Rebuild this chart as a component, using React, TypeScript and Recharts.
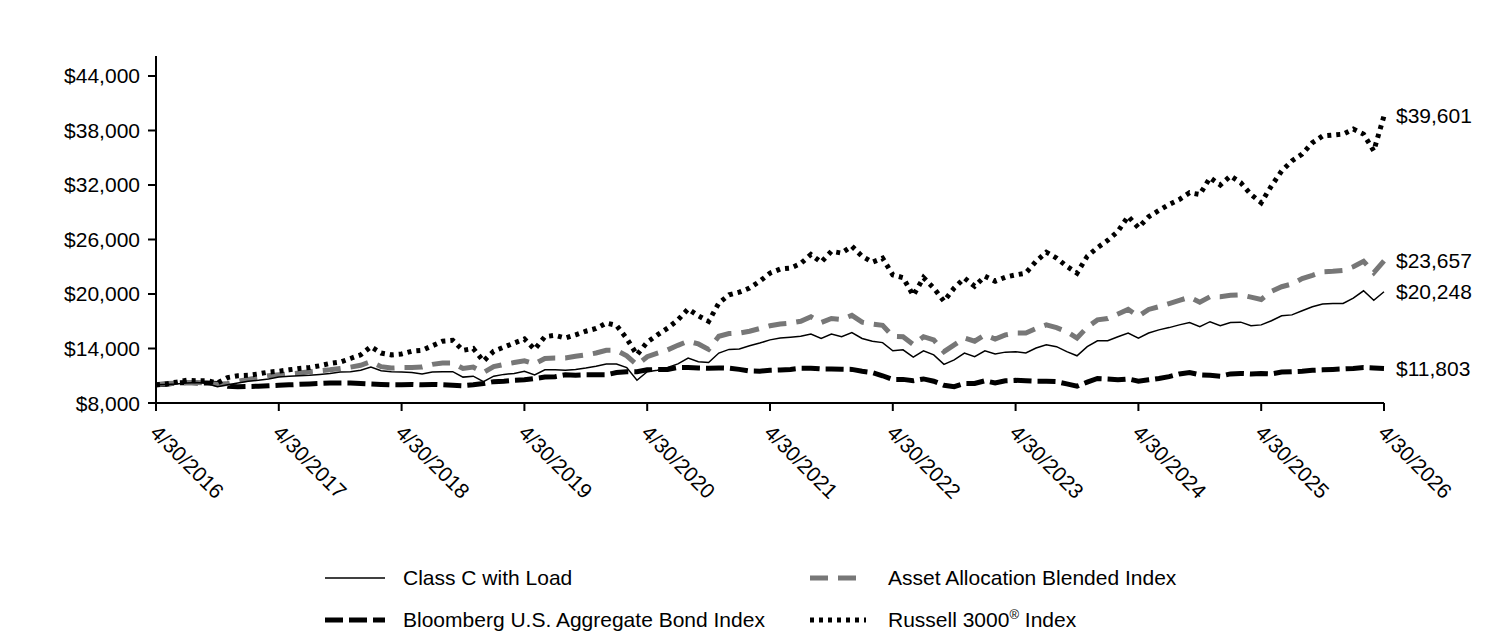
import React from 'react';
import { LineChart, Line, XAxis, YAxis, LabelList } from 'recharts';

const tickLabels = ['4/30/2016', '4/30/2017', '4/30/2018', '4/30/2019', '4/30/2020', '4/30/2021', '4/30/2022', '4/30/2023', '4/30/2024', '4/30/2025', '4/30/2026'];
const yTicks = [8000, 14000, 20000, 26000, 32000, 38000, 44000];

const classC = [
  10000, 10050, 10100, 10200, 10250, 10150, 9800, 10000, 10200, 10400,
  10500, 10650, 10850, 10950, 11000, 11050, 11150, 11250, 11400, 11450,
  11600, 11950, 11550, 11450, 11400, 11350, 11200, 11400, 11450, 11450,
  10850, 10950, 10350, 10950, 11150, 11250, 11500, 11100, 11650, 11650,
  11600, 11700, 11850, 12050, 12300, 12300, 11900, 10500, 11450, 11600,
  11900, 12300, 12950, 12550, 12450, 13500, 13900, 13950, 14300, 14600,
  14950, 15150, 15250, 15350, 15600, 15100, 15600, 15300, 15750, 15100,
  14800, 14650, 13750, 13850, 13050, 13750, 13300, 12250, 12750, 13500,
  13100, 13750, 13400, 13600, 13650, 13500, 14050, 14400, 14200, 13650,
  13200, 14200, 14850, 14850, 15300, 15700, 15150, 15700, 16050, 16300,
  16600, 16850, 16400, 16950, 16500, 16850, 16900, 16500, 16600, 17050,
  17600, 17700, 18150, 18600, 18900, 18950, 18950, 19550, 20350, 19300,
  20248,
];

const assetAllocation = [
  10000, 10150, 10200, 10250, 10250, 10200, 10050, 10150, 10400, 10600,
  10800, 11000, 11100, 11200, 11300, 11450, 11550, 11650, 11800, 11950,
  12150, 12550, 12000, 11850, 11900, 11900, 11950, 12250, 12400, 12400,
  11800, 11950, 11350, 12000, 12250, 12450, 12650, 12300, 12900, 12950,
  12950, 13150, 13300, 13500, 13800, 13800, 13200, 12200, 13100, 13500,
  13850, 14350, 14800, 14500, 13900, 15350, 15650, 15700, 15900, 16200,
  16500, 16700, 16800, 17000, 17500, 16850, 17300, 17200, 17650, 16900,
  16700, 16550, 15350, 15300, 14450, 15300, 14950, 13650, 14400, 15150,
  14800, 15500, 15050, 15500, 15700, 15700, 16200, 16600, 16300, 15850,
  15150, 16350, 17150, 17300, 17800, 18300, 17550, 18300, 18600, 18950,
  19300, 19650, 19100, 19700, 19700, 19850, 19900, 19650, 19400, 20300,
  20800, 21100, 21700, 22050, 22450, 22500, 22600, 23000, 23600, 22350,
  23657,
];

const bloomberg = [
  10000, 10050, 10200, 10250, 10200, 10200, 10150, 9850, 9800, 9820,
  9850, 9900, 9950, 10000, 10050, 10100, 10150, 10200, 10200, 10200,
  10150, 10100, 10050, 10000, 10000, 10050, 10000, 10050, 10000, 9950,
  9900, 10000, 10150, 10350, 10400, 10500, 10550, 10700, 10850, 10900,
  11100, 11050, 11100, 11100, 11100, 11350, 11450, 11450, 11650, 11700,
  11700, 11900, 11900, 11850, 11830, 11850, 11830, 11700, 11530, 11500,
  11600, 11640, 11700, 11830, 11830, 11750, 11750, 11720, 11700, 11500,
  11350, 11000, 10600, 10600, 10450, 10650, 10400, 9950, 9800, 10150,
  10150, 10450, 10200, 10450, 10500, 10450, 10400, 10400, 10350, 10100,
  9850, 10300, 10700, 10650, 10550, 10650, 10400, 10550, 10700, 10900,
  11200, 11350, 11100, 11050, 10950, 11200, 11250, 11200, 11250, 11200,
  11400, 11450, 11500, 11600, 11650, 11700, 11750, 11800, 11900, 11850,
  11803,
];

const russell = [
  10000, 10100, 10300, 10500, 10450, 10450, 10200, 10800, 11000, 11050,
  11200, 11400, 11500, 11650, 11800, 11900, 12100, 12350, 12500, 12900,
  13300, 14200, 13500, 13300, 13400, 13700, 13800, 14300, 14800, 14900,
  13800, 14000, 12600, 13700, 14150, 14600, 15050, 13900, 15300, 15450,
  15150, 15500, 15900, 16200, 16800, 16550, 15100, 13300, 14700, 15500,
  16250, 17150, 18350, 17600, 16980, 19000, 19900, 20200, 20650, 21400,
  22300, 22750, 22850, 23350, 24350, 23500, 24700, 24500, 25260, 24150,
  23500, 23950, 22100, 21800, 19850, 21800, 20650, 19200, 20660, 21750,
  20850, 21950, 21400, 21850, 22100, 22300, 23600, 24600, 23950, 23050,
  22300, 24150, 25100, 25900, 26900, 28550, 27300, 28500, 29200, 29850,
  30400, 31150, 30950, 32800, 32000, 33000, 32250, 30950, 30050, 31900,
  33550, 34650, 35400, 36650, 37400, 37500, 37600, 38150, 37600, 35750,
  39601,
];

const seriesNames = {
  classC: 'Class C with Load',
  asset: 'Asset Allocation Blended Index',
  bond: 'Bloomberg U.S. Aggregate Bond Index',
  russell: 'Russell 3000',
};

const data = classC.map((v, i) => ({
  m: i,
  classC: v,
  asset: assetAllocation[i],
  bond: bloomberg[i],
  russell: russell[i],
}));

const FONT = "Arial, 'Liberation Sans', sans-serif";
const FS = 21;

const fmtMoney = (v: number) => '$' + String(Math.round(v)).replace(/\B(?=(\d{3})+(?!\d))/g, ',');

const XTick = (props: any) => {
  const { x, y, payload } = props;
  const label = tickLabels[Math.round(payload.value / 12)];
  return (
    <g transform={`translate(${x - 7},${y + 21})`}>
      <text transform="rotate(45)" textAnchor="start" fontFamily={FONT} fontSize={FS} fill="#000">
        {label}
      </text>
    </g>
  );
};

const YTick = (props: any) => {
  const { x, y, payload } = props;
  return (
    <text x={x} y={y} textAnchor="end" dominantBaseline="central" fontFamily={FONT} fontSize={FS} fill="#000">
      {fmtMoney(payload.value)}
    </text>
  );
};

const endLabel = (props: any) => {
  const { x, y, value, index } = props;
  if (index !== data.length - 1) return null;
  return (
    <text x={x + 12} y={y} dominantBaseline="central" fontFamily={FONT} fontSize={FS} fill="#000">
      {fmtMoney(value)}
    </text>
  );
};

const Swatch = ({ kind }: { kind: string }) => {
  const common: any = { x1: 0, x2: 60, y1: 10, y2: 10 };
  let line;
  if (kind === 'classC') line = <line {...common} stroke="#000" strokeWidth={1.5} />;
  else if (kind === 'asset') line = <line {...common} x1={0} x2={56} stroke="#777777" strokeWidth={5} strokeDasharray="18 10" />;
  else if (kind === 'bond') line = <line {...common} stroke="#000" strokeWidth={5} strokeDasharray="18 6" />;
  else line = <line {...common} x2={56} stroke="#000" strokeWidth={5} strokeDasharray="4 5" />;
  return (
    <svg width={60} height={20} style={{ display: 'block' }}>
      {line}
    </svg>
  );
};

const LegendItem = ({ kind, left, top }: { kind: string; left: number; top: number }) => (
  <div style={{ position: 'absolute', left, top: top - 10, height: 20, display: 'flex', alignItems: 'center' }}>
    <Swatch kind={kind} />
    <span style={{ marginLeft: 18, fontFamily: FONT, fontSize: FS, color: '#000', whiteSpace: 'nowrap', lineHeight: '20px' }}>
      {(seriesNames as any)[kind]}
      {kind === 'russell' ? (
        <>
          <sup style={{ fontSize: 13, lineHeight: 0 }}>®</sup> Index
        </>
      ) : null}
    </span>
  </div>
);

export default function App() {
  return (
    <div style={{ position: 'absolute', left: 0, top: 0, width: 1512, height: 636, background: '#fff' }}>
      <LineChart width={1512} height={636} data={data} margin={{ top: 56, right: 128, left: 0, bottom: 0 }}>
        <XAxis
          dataKey="m"
          type="number"
          domain={[0, 120]}
          ticks={[0, 12, 24, 36, 48, 60, 72, 84, 96, 108, 120]}
          height={233}
          tickSize={8}
          axisLine={{ stroke: '#000', strokeWidth: 2 }}
          tickLine={{ stroke: '#000', strokeWidth: 2 }}
          tick={<XTick />}
          interval={0}
        />
        <YAxis
          type="number"
          domain={[8000, 46200]}
          ticks={yTicks}
          width={156}
          tickSize={8}
          tickMargin={8}
          axisLine={{ stroke: '#000', strokeWidth: 2 }}
          tickLine={{ stroke: '#000', strokeWidth: 2 }}
          tick={<YTick />}
          interval={0}
        />
        <Line dataKey="bond" stroke="#000" strokeWidth={5} strokeDasharray="18 6" dot={false} isAnimationActive={false}>
          <LabelList dataKey="bond" content={endLabel} />
        </Line>
        <Line dataKey="asset" stroke="#777777" strokeWidth={5} strokeDasharray="18 10" dot={false} isAnimationActive={false}>
          <LabelList dataKey="asset" content={endLabel} />
        </Line>
        <Line dataKey="russell" stroke="#000" strokeWidth={5} strokeDasharray="4 5" dot={false} isAnimationActive={false}>
          <LabelList dataKey="russell" content={endLabel} />
        </Line>
        <Line dataKey="classC" stroke="#000" strokeWidth={1.5} dot={false} isAnimationActive={false}>
          <LabelList dataKey="classC" content={endLabel} />
        </Line>
      </LineChart>
      <LegendItem kind="classC" left={325} top={578} />
      <LegendItem kind="asset" left={810} top={578} />
      <LegendItem kind="bond" left={325} top={620} />
      <LegendItem kind="russell" left={810} top={620} />
    </div>
  );
}
